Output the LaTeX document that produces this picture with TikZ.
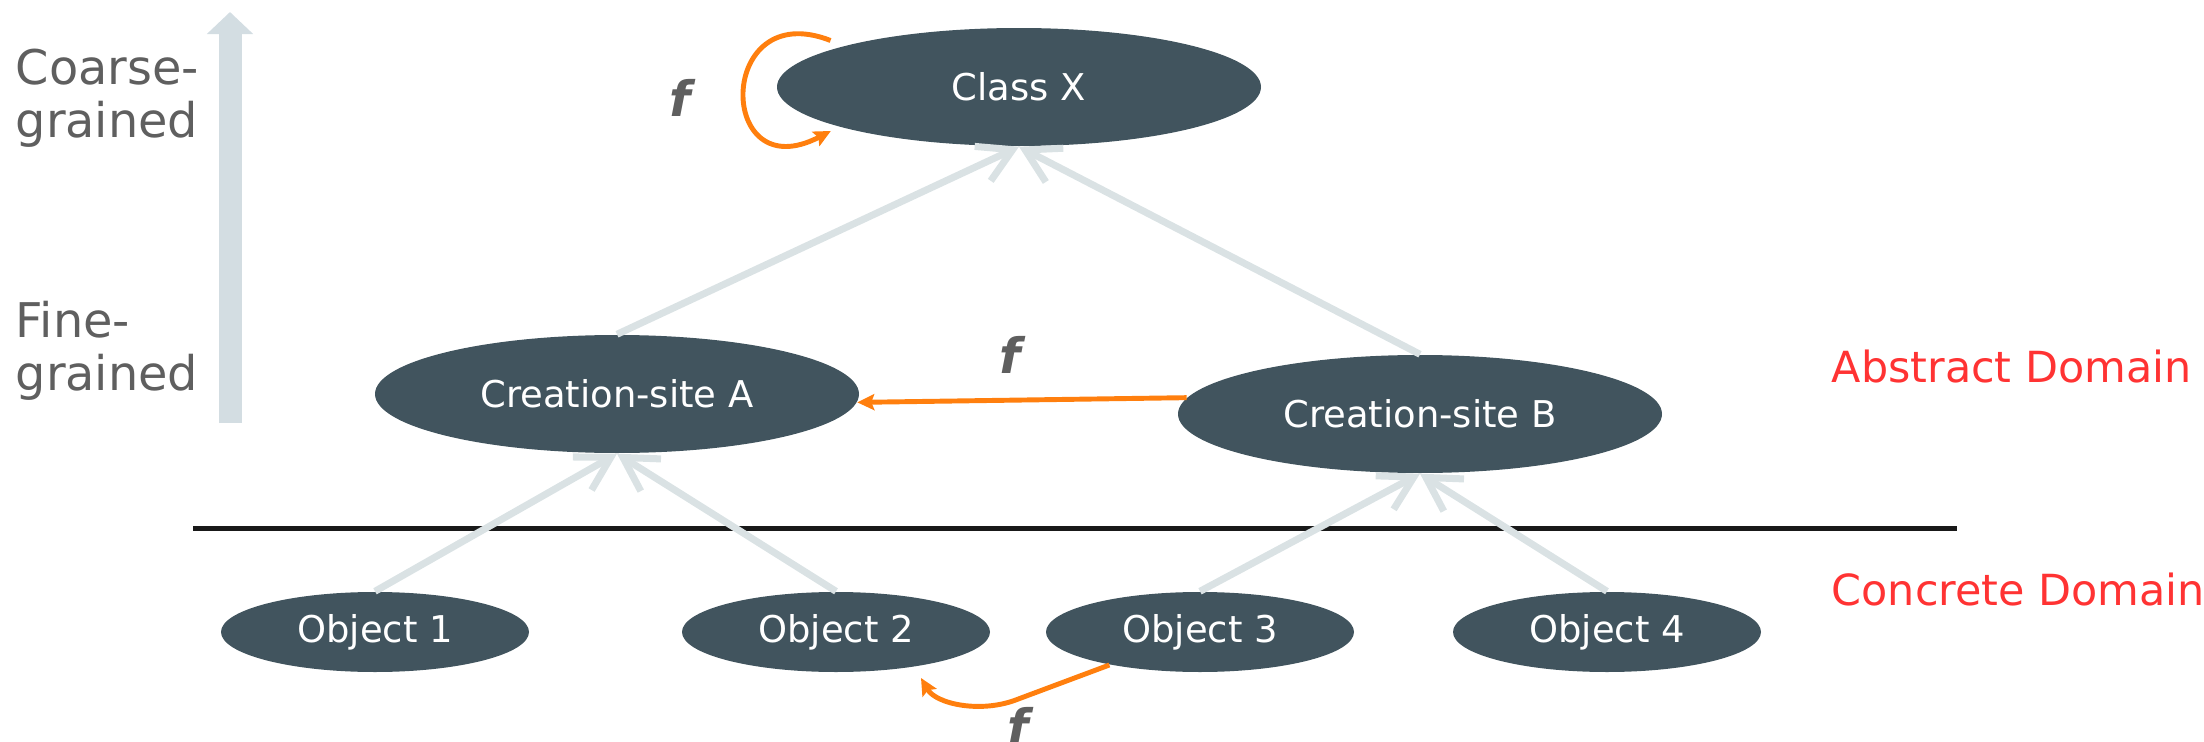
\documentclass[tikz,border=0pt]{standalone}
\usepackage{fontspec}
\setmainfont{DejaVu Sans}
\usetikzlibrary{arrows.meta, positioning, shapes.geometric}
\definecolor{nodegray}{HTML}{41545E}
\definecolor{linkgray}{HTML}{DAE2E4}
\definecolor{scalegray}{HTML}{D3DDE2}
\definecolor{txtgray}{HTML}{5F5F5F}
\definecolor{fnorange}{HTML}{FF7F0E}
\definecolor{domred}{HTML}{FF3333}

\begin{document}
\begin{tikzpicture}[
    site/.style={ellipse, fill=nodegray, text=white, inner sep=0pt,
      minimum width=4.84cm, minimum height=1.18cm, font=\fontsize{10.5}{12}\selectfont},
    obj/.style={site, minimum width=3.08cm, minimum height=0.80cm},
    link/.style={draw=linkgray, line width=2pt,
      -{Straight Barb[length=0.33cm, width=0.38cm, line cap=butt]}},
    fn/.style={draw=fnorange, line width=1.4pt,
      -{Stealth[length=0.17cm, width=0.16cm, inset=0.03cm]}},
    flabel/.style={text=txtgray, font=\fontsize{13.9}{16}\bfseries\itshape},
    grainlabel/.style={text=txtgray, align=left, anchor=base west, inner sep=0pt,
      font=\fontsize{13.6}{14.8}\selectfont},
    domlabel/.style={text=domred, anchor=base west, inner sep=0pt, font=\fontsize{12.2}{14}\selectfont}]
  \useasboundingbox (0,0) rectangle (22.04,7.41);

  % granularity scale on the left
  \coordinate (fine) at (2.30,3.18);
  \coordinate (coarse) at (2.30,7.29);
  \draw[scalegray, line width=0.23cm, -{Triangle[length=0.22cm, width=0.45cm]}] (fine) -- (coarse);
  \node[grainlabel] (coarsetxt) at (0.15,6.04) {Coarse-\\grained};
  \node[grainlabel] (finetxt) at (0.15,3.51) {Fine-\\grained};

  % abstract level
  \node[site] (X) at (10.19,6.54) {Class X};
  \node[site] (A) at (6.17,3.47) {Creation-site A};
  \node[site] (B) at (14.20,3.27) {Creation-site B};

  % concrete level
  \foreach \x/\n in {3.75/1, 8.36/2, 12.00/3, 16.07/4}
    \node[obj] (o\n) at (\x,1.09) {Object \n};

  \coordinate (sepL) at (1.93,2.125);
  \coordinate (sepR) at (19.57,2.125);
  \draw[black!90, line width=1.2pt] (sepL) -- (sepR);

  \node[domlabel] (abs) at (18.31,3.59) {Abstract Domain};
  \node[domlabel] (con) at (18.31,1.36) {Concrete Domain};

  % abstraction edges
  \draw[link] (A.north) -- (X.south);
  \draw[link] (B.north) -- (X.south);
  \foreach \o/\p in {1/A, 2/A, 3/B, 4/B}
    \draw[link] (o\o.north) -- (\p.south);

  % the function f at each level
  \draw[fn] ([shift={(-0.18,0.04)}]X.166) .. controls +(-1.15,0.45) and +(-1.15,-0.6) .. ([xshift=-0.24cm]X.195);
  \draw[fn] (B.176) -- (A.-2);
  \coordinate (o2tip) at (9.21,0.63);
  \draw[fn] (o3.200) -- ++(-0.91,-0.34) .. controls +(-0.37,-0.15) and +(0.15,-0.26) .. (o2tip);

  \node[flabel] (f1) at (6.80,6.43) {f};
  \node[flabel] (f2) at (10.10,3.86) {f};
  \node[flabel] (f3) at (10.18,0.155) {f};
\end{tikzpicture}
\end{document}
